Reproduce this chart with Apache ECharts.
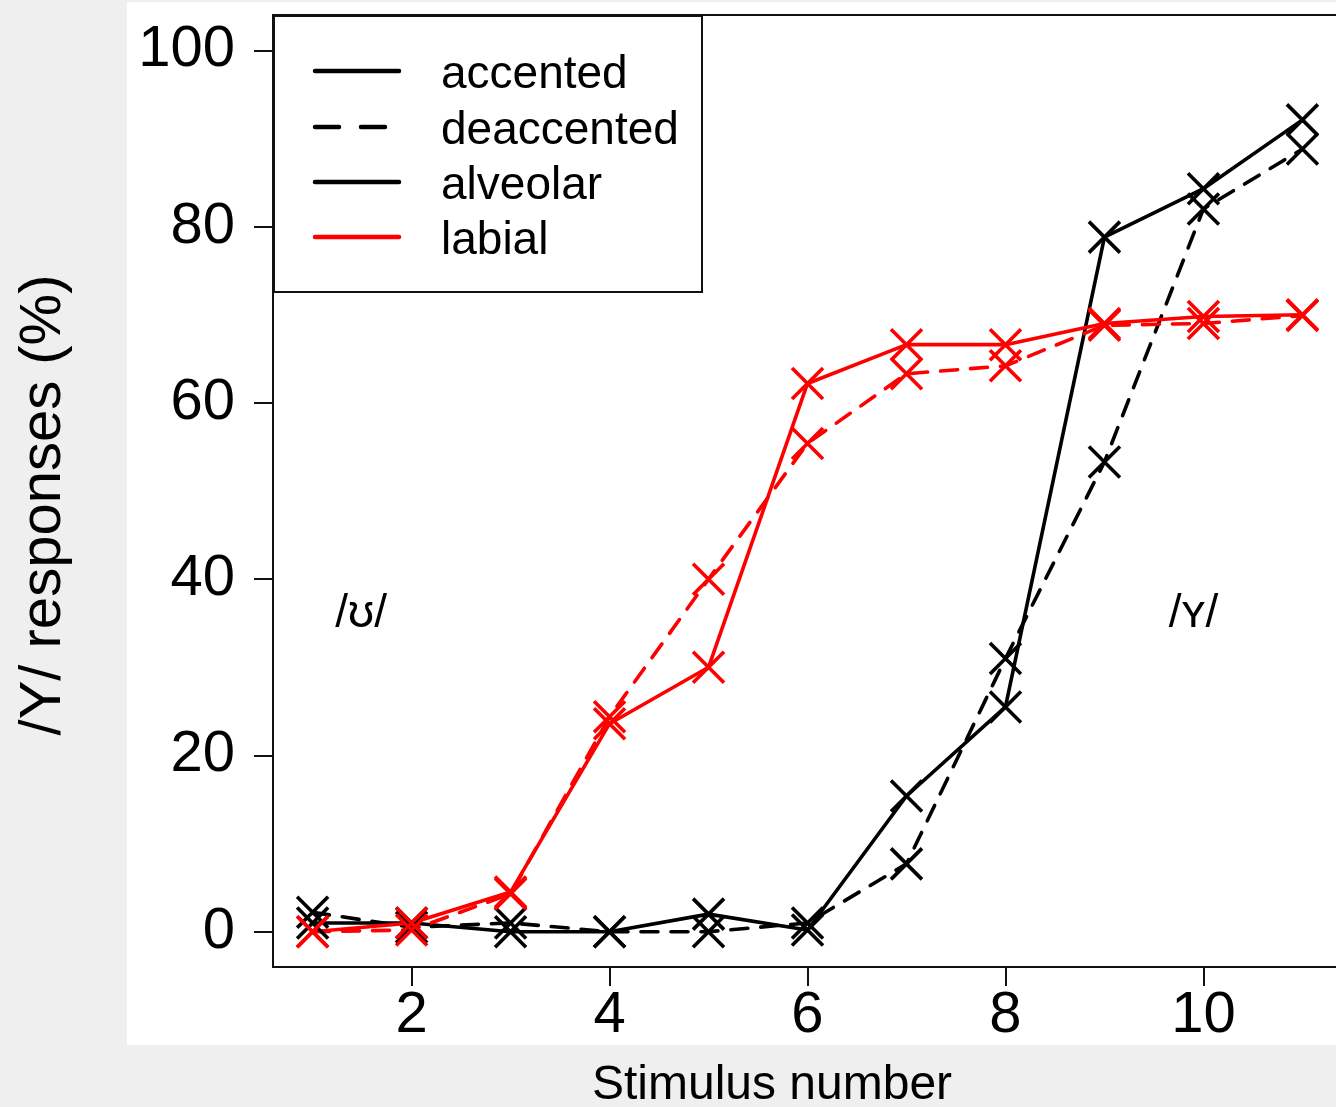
<!DOCTYPE html>
<html><head><meta charset="utf-8">
<script src="https://cdn.jsdelivr.net/npm/echarts@6/dist/echarts.min.js"></script>
<style>html,body{margin:0;padding:0;background:#efefef;overflow:hidden}#c{width:1336px;height:1107px}</style>
</head><body><div id="c"></div><script>
// ---- data ----
const stimuli = [1, 2, 3, 4, 5, 6, 7, 8, 9, 10, 11];
const alveolarAccented   = [1.0, 1.0, 0.0, 0.0, 2.0, 0.2, 15.4, 25.5, 78.8, 84.3, 92.1];
const alveolarDeaccented = [2.2, 0.5, 1.0, 0.0, 0.0, 1.0, 7.7, 31.0, 53.3, 82.0, 88.8];
const labialAccented     = [0.0, 1.0, 4.5, 23.6, 30.0, 62.2, 66.6, 66.6, 69.0, 69.8, 70.0];
const labialDeaccented   = [0.0, 0.2, 4.3, 24.4, 40.0, 55.4, 63.3, 64.2, 68.8, 69.0, 69.9];
const xTicks = [2, 4, 6, 8, 10];
const yTicks = [0, 20, 40, 60, 80, 100];
const legendLabels = ['accented', 'deaccented', 'alveolar', 'labial'];
const xTitle = 'Stimulus number';
const yTitle = '/Y/ responses (%)';
const annotations = [{text: '/ʊ/', x: 1.49, y: 36}, {text: '/ʏ/', x: 9.9, y: 36}];

// ---- styling ----
const FONT = "'Liberation Sans', Arial, 'DejaVu Sans', sans-serif";
const RED = '#ff0000', BLACK = '#000000';
const XSYM = 'path://M0,0L10,10M0,10L10,0';
const DASH = [17, 13];

function mk(name, vals, color, dashed) {
  return {
    type: 'line', name: name,
    data: stimuli.map((s, i) => [s, vals[i]]),
    symbol: XSYM, symbolSize: 31, showAllSymbol: true,
    lineStyle: {color: color, width: 3.6, type: dashed ? DASH : 'solid', cap: 'round', join: 'round'},
    itemStyle: {color: 'rgba(0,0,0,0)', borderColor: color, borderWidth: 3.6},
    emphasis: {disabled: true},
    animation: false
  };
}

const chart = echarts.init(document.getElementById('c'), null, {renderer: 'canvas'});

const legendY = [71, 127, 182, 237];
const legendStyles = [
  {color: BLACK, dash: null},
  {color: BLACK, dash: [24, 22]},
  {color: BLACK, dash: null},
  {color: RED, dash: null}
];
const legendEls = [{
  type: 'rect', shape: {x: 274, y: 16, width: 428, height: 276},
  style: {fill: '#fff', stroke: '#111', lineWidth: 2}, z: 50
}];
legendLabels.forEach((lab, i) => {
  legendEls.push({
    type: 'line', shape: {x1: 315, y1: legendY[i], x2: 399, y2: legendY[i]},
    style: {stroke: legendStyles[i].color, lineWidth: 4.5, lineDash: legendStyles[i].dash, lineCap: 'round'}, z: 51
  });
  legendEls.push({
    type: 'text', x: 441, y: legendY[i] + 4,
    style: {text: lab, fill: '#000', font: '46px ' + FONT, textVerticalAlign: 'middle', textAlign: 'left'}, z: 51
  });
});

const option = {
  backgroundColor: '#efefef',
  animation: false,
  grid: {left: 273, top: 15, width: 1069, height: 952, show: true, borderColor: '#111', borderWidth: 2,
         backgroundColor: 'transparent', containLabel: false, outerBoundsMode: 'none'},
  xAxis: {
    type: 'value', min: 0.6, max: 11.4,
    axisLine: {show: false, onZero: false},
    splitLine: {show: false},
    axisTick: {show: true, customValues: xTicks, length: 19, lineStyle: {color: '#111', width: 2}},
    axisLabel: {customValues: xTicks, fontSize: 58, fontFamily: FONT, color: '#000', margin: 20}
  },
  yAxis: {
    type: 'value', min: -4, max: 104,
    axisLine: {show: false, onZero: false},
    splitLine: {show: false},
    axisTick: {show: true, customValues: yTicks, length: 19, lineStyle: {color: '#111', width: 2}},
    axisLabel: {customValues: yTicks, fontSize: 58, fontFamily: FONT, color: '#000', margin: 38}
  },
  series: [
    mk('alveolar accented', alveolarAccented, BLACK, false),
    mk('alveolar deaccented', alveolarDeaccented, BLACK, true),
    mk('labial accented', labialAccented, RED, false),
    mk('labial deaccented', labialDeaccented, RED, true)
  ],
  graphic: {elements: [
    {type: 'rect', shape: {x: 127, y: 2, width: 1209, height: 1043}, style: {fill: '#ffffff'}, z: -10, silent: true},
    {type: 'text', x: 772, y: 1086, style: {text: xTitle, fill: '#000', font: '48px ' + FONT, textAlign: 'center', textVerticalAlign: 'middle'}},
    {type: 'text', x: 44, y: 505, rotation: Math.PI / 2, style: {text: yTitle, fill: '#000', font: '58px ' + FONT, textAlign: 'center', textVerticalAlign: 'middle'}},
    ...legendEls
  ]}
};
chart.setOption(option);

// annotations placed at data coordinates
const annEls = annotations.map(a => {
  const p = chart.convertToPixel({gridIndex: 0}, [a.x, a.y]);
  return {type: 'text', x: p[0], y: p[1], style: {text: a.text, fill: '#000', font: '46px ' + FONT, textAlign: 'center', textVerticalAlign: 'middle'}, z: 10};
});
chart.setOption({graphic: {elements: option.graphic.elements.concat(annEls)}});
</script></body></html>
